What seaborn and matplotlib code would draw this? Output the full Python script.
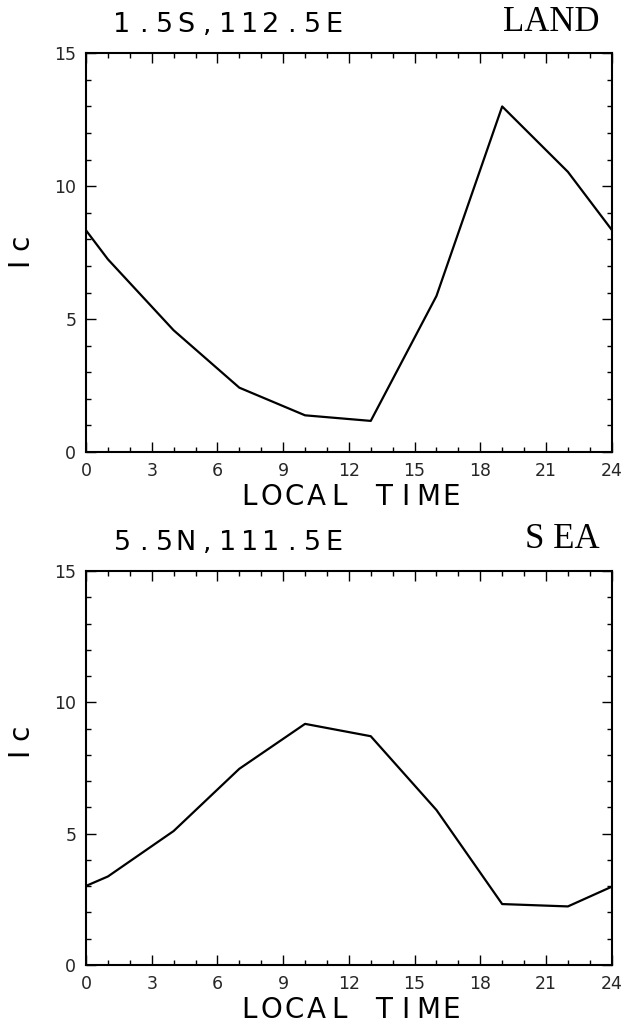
import numpy as np
import pandas as pd
import matplotlib
matplotlib.use("Agg")
import matplotlib.pyplot as plt
from matplotlib.ticker import MultipleLocator
import seaborn as sns

# Diurnal cycle of Ic at two grid points
hours = [0, 1, 4, 7, 10, 13, 16, 19, 22, 24]
land_ic = [8.34, 7.25, 4.58, 2.42, 1.38, 1.17, 5.87, 13.0, 10.54, 8.36]
sea_ic = [3.01, 3.37, 5.10, 7.47, 9.18, 8.71, 5.90, 2.32, 2.23, 2.98]

panel_titles = ["1.5S,112.5E", "5.5N,111.5E"]
panel_tags = ["LAND", "S EA"]
x_label = "LOCAL TIME"
y_label = "I c"
x_ticks = list(range(0, 25, 3))
y_ticks = [0, 5, 10, 15]

sns.set_style("ticks")
plt.rcParams["font.family"] = ["DejaVu Sans"]

W, H = 624, 1027
fig = plt.figure(figsize=(W / 100, H / 100), dpi=100)


def px(x, y):
    return x / W, 1 - y / H


def spaced(text, x0, y, pitch, size, **kw):
    # draw each glyph on a fixed pitch, like a plotter font
    for i, ch in enumerate(text):
        fx, fy = px(x0 + i * pitch, y)
        fig.text(fx, fy, ch, ha="center", va="center", fontsize=size, **kw)


rects = [
    (86, 53.3, 611.7, 452.0),
    (86, 571.0, 611.7, 965.0),
]
ylabel_y = [252, 742]
series = [land_ic, sea_ic]

for k, (x0, y0, x1, y1) in enumerate(rects):
    ax = fig.add_axes([x0 / W, 1 - y1 / H, (x1 - x0) / W, (y1 - y0) / H])
    df = pd.DataFrame({"hour": hours, "ic": series[k]})
    sns.lineplot(data=df, x="hour", y="ic", ax=ax, color="black", lw=1.6)
    ax.set_xlim(0, 24)
    ax.set_ylim(0, 15)
    ax.set_xticks(x_ticks)
    ax.set_yticks(y_ticks)
    ax.xaxis.set_minor_locator(MultipleLocator(1))
    ax.yaxis.set_minor_locator(MultipleLocator(1))
    ax.tick_params(which="both", direction="in", top=True, right=True,
                   color="black", width=1.0)
    ax.tick_params(which="major", length=7, labelsize=12.5, pad=7)
    ax.tick_params(which="minor", length=3.5)
    ax.set_xlabel("")
    ax.set_ylabel("")
    for s in ax.spines.values():
        s.set_visible(True)
        s.set_linewidth(1.5)
        s.set_color("black")

    # panel header
    spaced(panel_titles[k], 122, y0 - 28, 21.2, 19.5, color="black")
    fx, fy = px(600, y0 - 31)
    fig.text(fx, fy, panel_tags[k], ha="right", va="center", fontsize=25,
             family="Liberation Serif", color="black")
    # axis labels
    spaced(x_label, 249, y1 + 45, 22.4, 20, color="black")
    fx, fy = px(22, ylabel_y[k])
    fig.text(fx, fy, y_label, ha="center", va="center", rotation=90,
             fontsize=20, color="black")

fig.savefig("out.png", dpi=100)
